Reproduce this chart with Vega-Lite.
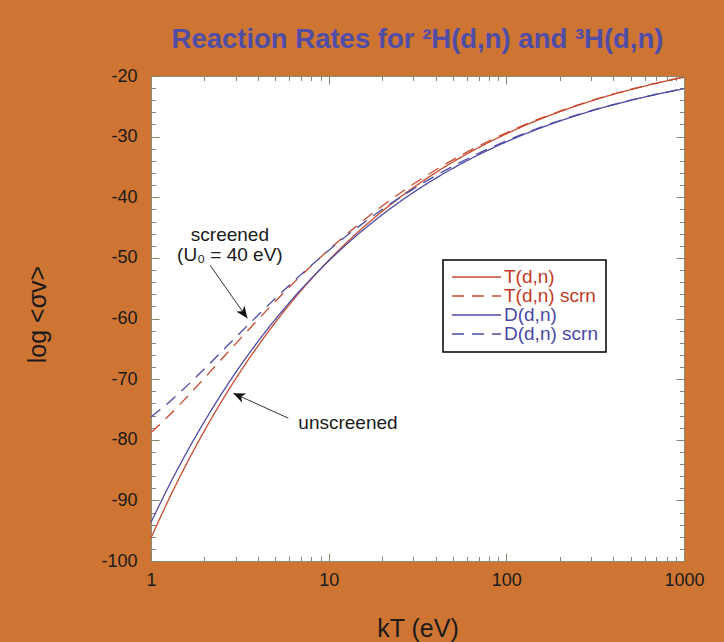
{
  "$schema": "https://vega.github.io/schema/vega-lite/v6.json",
  "width": 533,
  "height": 485,
  "autosize": "none",
  "padding": {"left": 151, "top": 76, "right": 40, "bottom": 81},
  "background": "#CE7534",
  "title": {
    "text": "Reaction Rates for ²H(d,n) and ³H(d,n)",
    "font": "Liberation Sans",
    "fontSize": 27.5,
    "fontWeight": "bold",
    "color": "#4F4DA6",
    "anchor": "middle",
    "baseline": "alphabetic",
    "offset": 27,
    "dx": 0,
    "dy": 35
  },
  "datasets": {
    "curves": [
      {"kT": 1, "logsv": -96.18, "series": "T(d,n)"},
      {"kT": 1.25, "logsv": -90.03, "series": "T(d,n)"},
      {"kT": 1.5, "logsv": -85.34, "series": "T(d,n)"},
      {"kT": 2, "logsv": -78.5, "series": "T(d,n)"},
      {"kT": 2.5, "logsv": -73.64, "series": "T(d,n)"},
      {"kT": 3, "logsv": -69.93, "series": "T(d,n)"},
      {"kT": 4, "logsv": -64.52, "series": "T(d,n)"},
      {"kT": 5, "logsv": -60.67, "series": "T(d,n)"},
      {"kT": 6, "logsv": -57.73, "series": "T(d,n)"},
      {"kT": 8, "logsv": -53.46, "series": "T(d,n)"},
      {"kT": 10, "logsv": -50.42, "series": "T(d,n)"},
      {"kT": 15, "logsv": -45.45, "series": "T(d,n)"},
      {"kT": 20, "logsv": -42.32, "series": "T(d,n)"},
      {"kT": 30, "logsv": -38.4, "series": "T(d,n)"},
      {"kT": 40, "logsv": -35.94, "series": "T(d,n)"},
      {"kT": 60, "logsv": -32.85, "series": "T(d,n)"},
      {"kT": 100, "logsv": -29.54, "series": "T(d,n)"},
      {"kT": 150, "logsv": -27.29, "series": "T(d,n)"},
      {"kT": 200, "logsv": -25.89, "series": "T(d,n)"},
      {"kT": 300, "logsv": -24.13, "series": "T(d,n)"},
      {"kT": 500, "logsv": -22.25, "series": "T(d,n)"},
      {"kT": 700, "logsv": -21.19, "series": "T(d,n)"},
      {"kT": 1000, "logsv": -20.2, "series": "T(d,n)"},
      {"kT": 1, "logsv": -78.81, "series": "T(d,n) scrn"},
      {"kT": 1.25, "logsv": -76.13, "series": "T(d,n) scrn"},
      {"kT": 1.5, "logsv": -73.76, "series": "T(d,n) scrn"},
      {"kT": 2, "logsv": -69.82, "series": "T(d,n) scrn"},
      {"kT": 2.5, "logsv": -66.69, "series": "T(d,n) scrn"},
      {"kT": 3, "logsv": -64.14, "series": "T(d,n) scrn"},
      {"kT": 4, "logsv": -60.18, "series": "T(d,n) scrn"},
      {"kT": 5, "logsv": -57.2, "series": "T(d,n) scrn"},
      {"kT": 6, "logsv": -54.84, "series": "T(d,n) scrn"},
      {"kT": 8, "logsv": -51.29, "series": "T(d,n) scrn"},
      {"kT": 10, "logsv": -48.68, "series": "T(d,n) scrn"},
      {"kT": 15, "logsv": -44.29, "series": "T(d,n) scrn"},
      {"kT": 20, "logsv": -41.45, "series": "T(d,n) scrn"},
      {"kT": 30, "logsv": -37.82, "series": "T(d,n) scrn"},
      {"kT": 40, "logsv": -35.51, "series": "T(d,n) scrn"},
      {"kT": 60, "logsv": -32.56, "series": "T(d,n) scrn"},
      {"kT": 100, "logsv": -29.37, "series": "T(d,n) scrn"},
      {"kT": 150, "logsv": -27.17, "series": "T(d,n) scrn"},
      {"kT": 200, "logsv": -25.8, "series": "T(d,n) scrn"},
      {"kT": 300, "logsv": -24.07, "series": "T(d,n) scrn"},
      {"kT": 500, "logsv": -22.22, "series": "T(d,n) scrn"},
      {"kT": 700, "logsv": -21.17, "series": "T(d,n) scrn"},
      {"kT": 1000, "logsv": -20.18, "series": "T(d,n) scrn"},
      {"kT": 1, "logsv": -93.62, "series": "D(d,n)"},
      {"kT": 1.25, "logsv": -87.83, "series": "D(d,n)"},
      {"kT": 1.5, "logsv": -83.41, "series": "D(d,n)"},
      {"kT": 2, "logsv": -76.97, "series": "D(d,n)"},
      {"kT": 2.5, "logsv": -72.39, "series": "D(d,n)"},
      {"kT": 3, "logsv": -68.89, "series": "D(d,n)"},
      {"kT": 4, "logsv": -63.79, "series": "D(d,n)"},
      {"kT": 5, "logsv": -60.17, "series": "D(d,n)"},
      {"kT": 6, "logsv": -57.4, "series": "D(d,n)"},
      {"kT": 8, "logsv": -53.38, "series": "D(d,n)"},
      {"kT": 10, "logsv": -50.51, "series": "D(d,n)"},
      {"kT": 15, "logsv": -45.84, "series": "D(d,n)"},
      {"kT": 20, "logsv": -42.89, "series": "D(d,n)"},
      {"kT": 30, "logsv": -39.2, "series": "D(d,n)"},
      {"kT": 40, "logsv": -36.88, "series": "D(d,n)"},
      {"kT": 60, "logsv": -33.98, "series": "D(d,n)"},
      {"kT": 100, "logsv": -30.86, "series": "D(d,n)"},
      {"kT": 150, "logsv": -28.76, "series": "D(d,n)"},
      {"kT": 200, "logsv": -27.43, "series": "D(d,n)"},
      {"kT": 300, "logsv": -25.78, "series": "D(d,n)"},
      {"kT": 500, "logsv": -24.02, "series": "D(d,n)"},
      {"kT": 700, "logsv": -23.03, "series": "D(d,n)"},
      {"kT": 1000, "logsv": -22.1, "series": "D(d,n)"},
      {"kT": 1, "logsv": -76.25, "series": "D(d,n) scrn"},
      {"kT": 1.25, "logsv": -73.93, "series": "D(d,n) scrn"},
      {"kT": 1.5, "logsv": -71.83, "series": "D(d,n) scrn"},
      {"kT": 2, "logsv": -68.29, "series": "D(d,n) scrn"},
      {"kT": 2.5, "logsv": -65.44, "series": "D(d,n) scrn"},
      {"kT": 3, "logsv": -63.1, "series": "D(d,n) scrn"},
      {"kT": 4, "logsv": -59.45, "series": "D(d,n) scrn"},
      {"kT": 5, "logsv": -56.7, "series": "D(d,n) scrn"},
      {"kT": 6, "logsv": -54.51, "series": "D(d,n) scrn"},
      {"kT": 8, "logsv": -51.21, "series": "D(d,n) scrn"},
      {"kT": 10, "logsv": -48.77, "series": "D(d,n) scrn"},
      {"kT": 15, "logsv": -44.68, "series": "D(d,n) scrn"},
      {"kT": 20, "logsv": -42.02, "series": "D(d,n) scrn"},
      {"kT": 30, "logsv": -38.62, "series": "D(d,n) scrn"},
      {"kT": 40, "logsv": -36.45, "series": "D(d,n) scrn"},
      {"kT": 60, "logsv": -33.69, "series": "D(d,n) scrn"},
      {"kT": 100, "logsv": -30.69, "series": "D(d,n) scrn"},
      {"kT": 150, "logsv": -28.64, "series": "D(d,n) scrn"},
      {"kT": 200, "logsv": -27.34, "series": "D(d,n) scrn"},
      {"kT": 300, "logsv": -25.72, "series": "D(d,n) scrn"},
      {"kT": 500, "logsv": -23.99, "series": "D(d,n) scrn"},
      {"kT": 700, "logsv": -23.01, "series": "D(d,n) scrn"},
      {"kT": 1000, "logsv": -22.08, "series": "D(d,n) scrn"}
    ],
    "notes": [
      {"kT": 2.78, "logsv": -46.24, "text": "screened"},
      {"kT": 2.78, "logsv": -49.54, "text": "(U₀ = 40 eV)"},
      {"kT": 12.84, "logsv": -77.22, "text": "unscreened"}
    ],
    "arrows": [
      {"arrow": "screened", "kT": 2.148, "logsv": -51.19, "kT2": 3.483, "logsv2": -59.97},
      {"arrow": "unscreened", "kT": 5.926, "logsv": -76.44, "kT2": 2.905, "logsv2": -72.32}
    ]
  },
  "data": {"name": "curves"},
  "resolve": {"axis": {"x": "independent", "y": "independent"}},
  "layer": [
    {
      "mark": {"type": "line", "strokeWidth": 1.3, "interpolate": "monotone"},
      "encoding": {
        "x": {"field": "kT", "type": "quantitative",
              "scale": {"type": "log", "domain": [1, 1000], "nice": false},
              "axis": {"orient": "bottom", "values": [1, 10, 100, 1000], "tickSize": -8, "labelPadding": 18,
                       "labelExpr": "'' + datum.value", "labelFlush": false, "labelOverlap": false,
                       "title": "kT (eV)", "titleX": 266.5, "titleY": 75, "titleBaseline": "alphabetic", "titleAlign": "center"}},
        "y": {"field": "logsv", "type": "quantitative",
              "scale": {"domain": [-100, -20], "nice": false, "zero": false},
              "axis": {"orient": "left", "values": [-100, -90, -80, -70, -60, -50, -40, -30, -20], "tickSize": -8, "labelPadding": 22,
                       "labelExpr": "'' + datum.value", "labelFlush": false, "labelOverlap": false,
                       "title": "log <σv>", "titleX": -106, "titleY": 238, "titleAngle": 270, "titleBaseline": "alphabetic", "titleAlign": "center"}},
        "color": {"field": "series", "type": "nominal",
                  "scale": {"domain": ["T(d,n)", "T(d,n) scrn", "D(d,n)", "D(d,n) scrn"], "range": ["#C94A2E", "#C94A2E", "#4D4BA5", "#4D4BA5"]},
                  "legend": {"title": null, "orient": "none", "legendX": 292, "legendY": 184, "symbolType": "stroke", "symbolSize": 2400,
                             "symbolStrokeWidth": 1.3, "labelFontSize": 19, "labelFont": "Liberation Sans", "labelOffset": 2,
                             "padding": 8, "rowPadding": 0, "clipHeight": 18, "strokeColor": "black", "fillColor": "white", "labelLimit": 200,
                             "encode": {"labels": {"update": {"fill": {"signal": "indexof(datum.label, 'T') === 0 ? '#C43A28' : '#4A48A3'"}}},
                                        "legend": {"update": {"strokeWidth": {"value": 1.5}}}}}},
        "strokeDash": {"field": "series", "type": "nominal",
                  "scale": {"domain": ["T(d,n)", "T(d,n) scrn", "D(d,n)", "D(d,n) scrn"], "range": [[1, 0], [12, 8], [1, 0], [12, 8]]},
                  "legend": {"title": null, "orient": "none", "legendX": 292, "legendY": 184, "symbolType": "stroke", "symbolSize": 2400,
                             "symbolStrokeWidth": 1.3, "labelFontSize": 19, "labelFont": "Liberation Sans", "labelOffset": 2,
                             "padding": 8, "rowPadding": 0, "clipHeight": 18, "strokeColor": "black", "fillColor": "white", "labelLimit": 200,
                             "encode": {"labels": {"update": {"fill": {"signal": "indexof(datum.label, 'T') === 0 ? '#C43A28' : '#4A48A3'"}}},
                                        "legend": {"update": {"strokeWidth": {"value": 1.5}}}}}}
      }
    },
    {
      "mark": {"type": "point", "opacity": 0},
      "encoding": {
        "x": {"field": "kT", "type": "quantitative", "scale": {"type": "log", "domain": [1, 1000], "nice": false},
              "axis": {"orient": "bottom", "values": [2, 3, 4, 5, 6, 7, 8, 9, 20, 30, 40, 50, 60, 70, 80, 90, 200, 300, 400, 500, 600, 700, 800, 900],
                       "tickSize": -4.5, "labels": false, "title": null}},
        "y": {"field": "logsv", "type": "quantitative", "scale": {"domain": [-100, -20], "nice": false, "zero": false},
              "axis": {"orient": "left", "values": [-98, -96, -94, -92, -88, -86, -84, -82, -78, -76, -74, -72, -68, -66, -64, -62, -58, -56, -54, -52, -48, -46, -44, -42, -38, -36, -34, -32, -28, -26, -24, -22],
                       "tickSize": -4.5, "labels": false, "title": null}}
      }
    },
    {
      "mark": {"type": "point", "opacity": 0},
      "encoding": {
        "x": {"field": "kT", "type": "quantitative", "scale": {"type": "log", "domain": [1, 1000], "nice": false},
              "axis": {"orient": "top", "values": [1, 10, 100, 1000], "tickSize": -8, "labels": false, "title": null}},
        "y": {"field": "logsv", "type": "quantitative", "scale": {"domain": [-100, -20], "nice": false, "zero": false},
              "axis": {"orient": "right", "values": [-100, -90, -80, -70, -60, -50, -40, -30, -20], "tickSize": -8, "labels": false, "title": null}}
      }
    },
    {
      "mark": {"type": "point", "opacity": 0},
      "encoding": {
        "x": {"field": "kT", "type": "quantitative", "scale": {"type": "log", "domain": [1, 1000], "nice": false},
              "axis": {"orient": "top", "values": [2, 3, 4, 5, 6, 7, 8, 9, 20, 30, 40, 50, 60, 70, 80, 90, 200, 300, 400, 500, 600, 700, 800, 900],
                       "tickSize": -4.5, "labels": false, "title": null}},
        "y": {"field": "logsv", "type": "quantitative", "scale": {"domain": [-100, -20], "nice": false, "zero": false},
              "axis": {"orient": "right", "values": [-98, -96, -94, -92, -88, -86, -84, -82, -78, -76, -74, -72, -68, -66, -64, -62, -58, -56, -54, -52, -48, -46, -44, -42, -38, -36, -34, -32, -28, -26, -24, -22],
                       "tickSize": -4.5, "labels": false, "title": null}}
      }
    },
    {
      "data": {"name": "notes"},
      "mark": {"type": "text", "font": "Liberation Sans", "fontSize": 19, "color": "#1a1a1a", "align": "center", "baseline": "middle"},
      "encoding": {
        "x": {"field": "kT", "type": "quantitative", "scale": {"type": "log", "domain": [1, 1000], "nice": false}, "axis": null},
        "y": {"field": "logsv", "type": "quantitative", "scale": {"domain": [-100, -20], "nice": false, "zero": false}, "axis": null},
        "text": {"field": "text"}
      }
    },
    {
      "data": {"name": "arrows"},
      "mark": {"type": "rule", "color": "#333333", "strokeWidth": 1},
      "encoding": {
        "x": {"field": "kT", "type": "quantitative", "scale": {"type": "log", "domain": [1, 1000], "nice": false}, "axis": null},
        "y": {"field": "logsv", "type": "quantitative", "scale": {"domain": [-100, -20], "nice": false, "zero": false}, "axis": null},
        "x2": {"field": "kT2"},
        "y2": {"field": "logsv2"}
      }
    },
    {
      "data": {"name": "arrows"},
      "transform": [{"filter": "datum.arrow === 'screened'"}],
      "mark": {"type": "point", "shape": "M0,0L0.42,1L0,0.72L-0.42,1Z", "filled": true, "color": "#111111", "opacity": 1, "size": 576, "angle": 145},
      "encoding": {
        "x": {"field": "kT2", "type": "quantitative", "scale": {"type": "log", "domain": [1, 1000], "nice": false}, "axis": null},
        "y": {"field": "logsv2", "type": "quantitative", "scale": {"domain": [-100, -20], "nice": false, "zero": false}, "axis": null}
      }
    },
    {
      "data": {"name": "arrows"},
      "transform": [{"filter": "datum.arrow === 'unscreened'"}],
      "mark": {"type": "point", "shape": "M0,0L0.42,1L0,0.72L-0.42,1Z", "filled": true, "color": "#111111", "opacity": 1, "size": 576, "angle": 294.5},
      "encoding": {
        "x": {"field": "kT2", "type": "quantitative", "scale": {"type": "log", "domain": [1, 1000], "nice": false}, "axis": null},
        "y": {"field": "logsv2", "type": "quantitative", "scale": {"domain": [-100, -20], "nice": false, "zero": false}, "axis": null}
      }
    }
  ],
  "config": {
    "font": "Liberation Sans",
    "view": {"stroke": "#8c8c78", "strokeWidth": 1, "fill": "white"},
    "axis": {"domain": false, "grid": false, "tickColor": "#85856c", "tickWidth": 1,
             "labelFont": "Liberation Sans", "labelFontSize": 18, "labelColor": "#1a1a1a",
             "titleFont": "Liberation Sans", "titleFontSize": 25, "titleFontWeight": "normal", "titleColor": "#1a1a1a"}
  }
}
